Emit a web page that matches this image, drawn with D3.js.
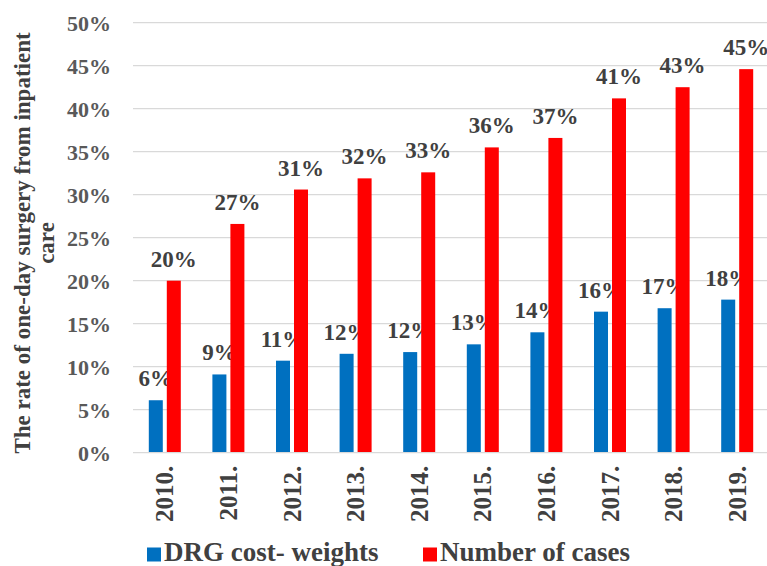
<!DOCTYPE html>
<html><head><meta charset="utf-8">
<script src="https://cdn.jsdelivr.net/npm/d3@7"></script>
<style>
html,body{margin:0;padding:0;background:#fff;}
svg{display:block;font-family:"Liberation Serif","Times New Roman",serif;font-weight:bold;}
</style></head>
<body><svg id="c" width="767" height="566"></svg>
<script>
const years = ["2010.","2011.","2012.","2013.","2014.","2015.","2016.","2017.","2018.","2019."];
const seriesNames = ["DRG cost- weights","Number of cases"];
const drgValues = [6.1, 9.1, 10.7, 11.5, 11.7, 12.6, 14.0, 16.4, 16.8, 17.8];
const casesValues = [20.0, 26.6, 30.6, 31.9, 32.6, 35.5, 36.6, 41.2, 42.5, 44.6];
const yTicks = [0,5,10,15,20,25,30,35,40,45,50];
const colors = ["#0070C0","#FF0000"];

const svg = d3.select("#c");
const L = 133, R = 769, T = 22.7, B = 452.7;
const y = d3.scaleLinear().domain([0,50]).range([B,T]);
const x0 = d3.scaleBand().domain(years).range([L,R]).padding(0);
const bw0 = x0.bandwidth();
const x1 = d3.scaleBand().domain(seriesNames).range([bw0/2-16, bw0/2+16]).paddingInner(0.222);

// gridlines
svg.append("g").selectAll("line").data(yTicks.filter(t=>t>0)).join("line")
  .attr("x1",L).attr("x2",R).attr("y1",d=>y(d)).attr("y2",d=>y(d))
  .attr("stroke","#d9d9d9").attr("stroke-width",1.3);

// y tick labels
const yAxis = d3.axisLeft(y).tickValues(yTicks).tickSize(0).tickPadding(0).tickFormat(d=>d+"%");
const ya = svg.append("g").attr("transform","translate(111,0)").call(yAxis);
ya.select(".domain").remove();
ya.selectAll("text").attr("font-size",22).attr("fill","#595959")
  .attr("font-family","Liberation Serif").attr("font-weight","bold").attr("dy","0.34em");

// bars
const series = [drgValues, casesValues];
const g = svg.append("g");
years.forEach((yr,i)=>{
  seriesNames.forEach((s,j)=>{
    const v = series[j][i];
    const bx = x0(yr)+x1(s);
    g.append("rect").attr("x",bx).attr("width",x1.bandwidth())
      .attr("y",y(v)).attr("height",B-y(v)).attr("fill",colors[j]);
    g.append("text").attr("x",bx+x1.bandwidth()/2).attr("y",y(v)-14)
      .attr("text-anchor","middle").attr("font-size",23).attr("fill","#404040")
      .text(Math.round(v)+"%");
  });
});

// baseline
svg.append("line").attr("x1",L).attr("x2",R).attr("y1",B).attr("y2",B)
  .attr("stroke","#d9d9d9").attr("stroke-width",1.3);

// x labels
const xAxis = d3.axisBottom(x0).tickSize(0).tickPadding(0);
const xa = svg.append("g").attr("transform",`translate(0,${B})`).call(xAxis);
xa.select(".domain").remove();
xa.selectAll("text").attr("font-size",25).attr("fill","#404040")
  .attr("font-family","Liberation Serif").attr("font-weight","bold")
  .attr("text-anchor","end").attr("transform","rotate(-90)")
  .attr("x",-13).attr("y",0).attr("dy","0.34em");

// y title
const yt = svg.append("text").attr("transform","translate(30,243) rotate(-90)")
  .attr("text-anchor","middle").attr("font-size",23).attr("fill","#404040");
yt.append("tspan").attr("x",0).attr("dy",0).text("The rate of one-day surgery from inpatient");
yt.append("tspan").attr("x",0).attr("dy",24).text("care");

// legend
const legX = [147, 423];
seriesNames.forEach((s,j)=>{
  svg.append("rect").attr("x",legX[j]).attr("y",547.5).attr("width",14).attr("height",14).attr("fill",colors[j]);
  svg.append("text").attr("x",legX[j]+17).attr("y",561).attr("font-size",27).attr("fill","#404040").text(s);
});
</script></body></html>
